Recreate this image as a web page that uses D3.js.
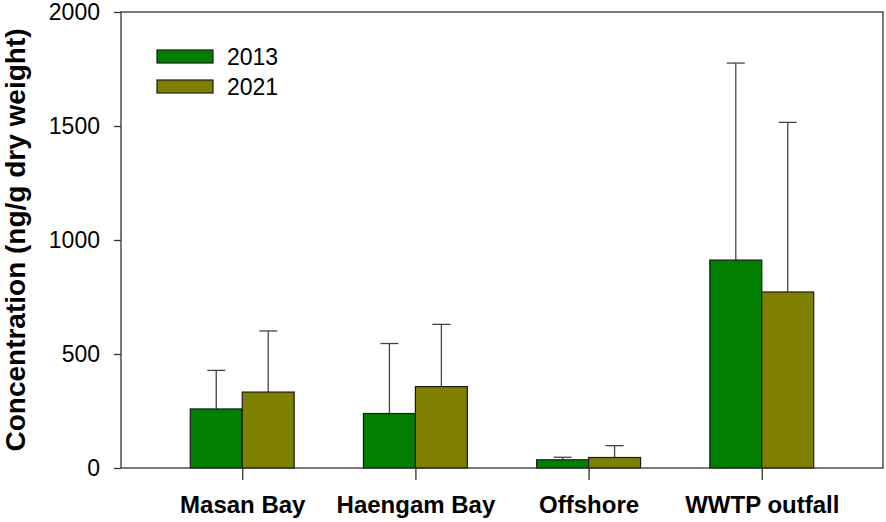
<!DOCTYPE html>
<html>
<head>
<meta charset="utf-8">
<script src="https://cdn.jsdelivr.net/npm/d3@7"></script>
<style>
  body { margin: 0; background: #fff; }
  svg { display: block; font-family: Arial, "Liberation Sans", sans-serif; }
</style>
</head>
<body>
<svg id="chart" width="886" height="522"></svg>
<script>
var sites = ["Masan Bay", "Haengam Bay", "Offshore", "WWTP outfall"];
var years = ["2013", "2021"];
var mean2013 = [259, 239, 36, 912];
var mean2021 = [333, 357, 46, 772];
var upper2013 = [428, 546, 47, 1776];
var upper2021 = [601, 630, 98, 1516];
var yTicks = [0, 500, 1000, 1500, 2000];
var colors = ["#007f00", "#808000"];

var plotL = 121, plotR = 883, plotT = 12, plotB = 468;

var svg = d3.select("#chart");

var x = d3.scalePoint()
    .domain(sites)
    .range([plotL, plotR])
    .padding(0.7);

var barW = x.step() * 0.3;

var y = d3.scaleLinear()
    .domain([0, 2000])
    .range([plotB, plotT]);

// build rows for bars
var rows = [];
sites.forEach(function (s, i) {
  rows.push({ site: s, k: 0, v: mean2013[i], up: upper2013[i] });
  rows.push({ site: s, k: 1, v: mean2021[i], up: upper2021[i] });
});

function barX(d) { return d.k === 0 ? x(d.site) - barW : x(d.site); }

// error bars (drawn before bars so the stem hides behind)
var err = svg.append("g").attr("stroke", "#444").attr("stroke-width", 1.3);
err.selectAll(".stem")
    .data(rows)
    .enter().append("line")
    .attr("x1", function (d) { return barX(d) + barW / 2; })
    .attr("x2", function (d) { return barX(d) + barW / 2; })
    .attr("y1", function (d) { return y(d.v); })
    .attr("y2", function (d) { return y(d.up); });
err.selectAll(".cap")
    .data(rows)
    .enter().append("line")
    .attr("x1", function (d) { return barX(d) + barW / 2 - 9; })
    .attr("x2", function (d) { return barX(d) + barW / 2 + 9; })
    .attr("y1", function (d) { return y(d.up); })
    .attr("y2", function (d) { return y(d.up); });

svg.append("g").selectAll("rect")
    .data(rows)
    .enter().append("rect")
    .attr("x", barX)
    .attr("y", function (d) { return y(d.v); })
    .attr("width", barW)
    .attr("height", function (d) { return y(0) - y(d.v); })
    .attr("fill", function (d) { return colors[d.k]; })
    .attr("stroke", "#1a1a1a")
    .attr("stroke-width", 1.2);

// frame: left, bottom, top, right
svg.append("rect")
    .attr("x", plotL).attr("y", plotT)
    .attr("width", plotR - plotL).attr("height", plotB - plotT)
    .attr("fill", "none").attr("stroke", "#333").attr("stroke-width", 1.3);

// y axis
var yAxis = svg.append("g")
    .attr("transform", "translate(" + plotL + ",0)")
    .call(d3.axisLeft(y).tickValues(yTicks).tickSize(7).tickPadding(14).tickFormat(d3.format("d")));
yAxis.select(".domain").remove();
yAxis.selectAll("line").attr("stroke", "#333").attr("stroke-width", 1.3);
yAxis.selectAll("text").attr("font-size", 23).attr("fill", "#000")
    .attr("font-family", "Arial, 'Liberation Sans', sans-serif");

// x axis
var xAxis = svg.append("g")
    .attr("transform", "translate(0," + plotB + ")")
    .call(d3.axisBottom(x).tickSize(12).tickPadding(16));
xAxis.select(".domain").remove();
xAxis.selectAll("line").attr("stroke", "#333").attr("stroke-width", 1.3);
xAxis.selectAll("text").attr("font-size", 24).attr("font-weight", "bold").attr("fill", "#000")
    .attr("font-family", "Arial, 'Liberation Sans', sans-serif");

// y label
svg.append("text")
    .attr("transform", "translate(25,240) rotate(-90)")
    .attr("text-anchor", "middle")
    .attr("font-size", 28)
    .attr("font-weight", "bold")
    .text("Concentration (ng/g dry weight)");

// legend
var legend = svg.append("g").selectAll("g")
    .data(years)
    .enter().append("g")
    .attr("transform", function (d, i) { return "translate(157," + (50 + i * 30) + ")"; });
legend.append("rect")
    .attr("width", 56).attr("height", 13)
    .attr("fill", function (d, i) { return colors[i]; })
    .attr("stroke", "#1a1a1a").attr("stroke-width", 1.2);
legend.append("text")
    .attr("x", 70).attr("y", 14.5)
    .attr("font-size", 23)
    .text(function (d) { return d; });
</script>
</body>
</html>
